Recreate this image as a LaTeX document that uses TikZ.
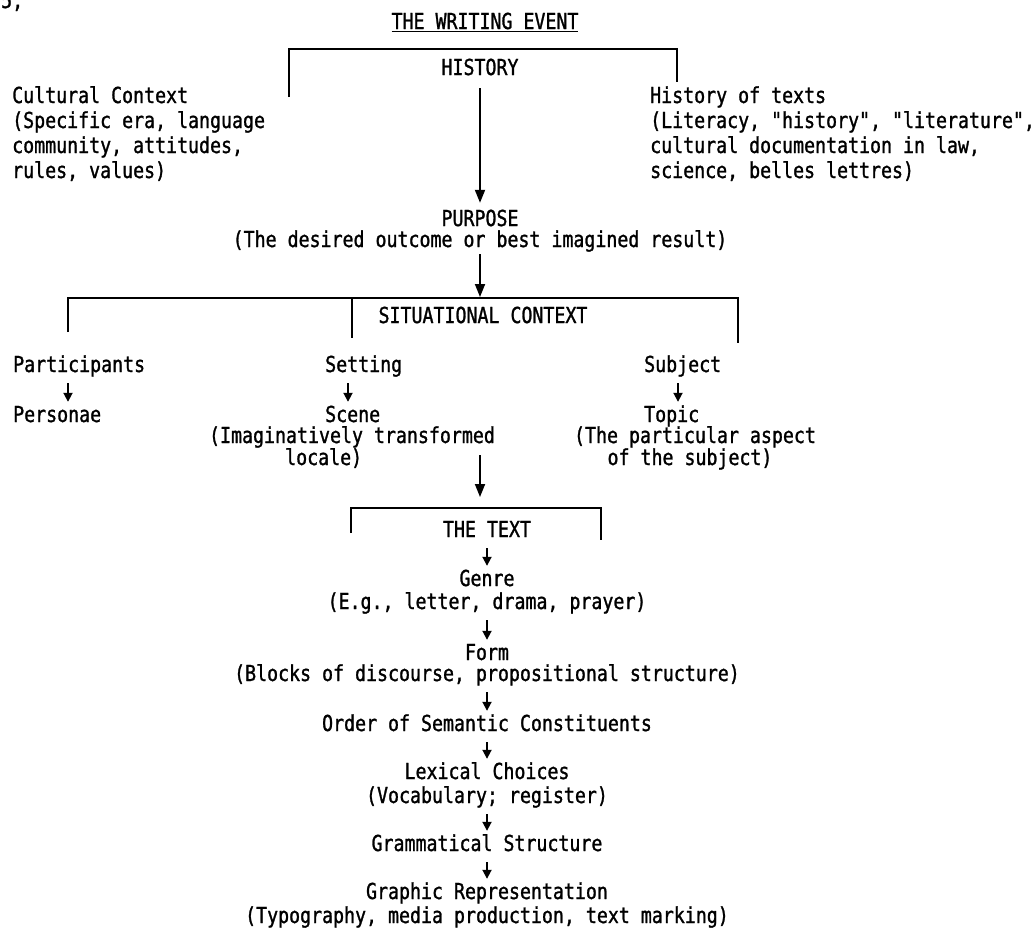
\documentclass[tikz,border=0pt]{standalone}
\usepackage{fontspec}
\usepackage{tikz}
\usetikzlibrary{arrows.meta}
\newfontfamily\dotfont[FakeStretch=0.83, FakeBold=1.2]{DejaVu Sans Mono}

\begin{document}
\begin{tikzpicture}[x=1pt, y=-1pt,
  lbl/.style={inner sep=0pt, font=\dotfont\fontsize{22pt}{24pt}\selectfont, text height=16pt, text depth=5pt},
  bigarr/.style={-{Triangle[length=13pt,width=10pt]}, line width=1.8pt},
  smallarr/.style={-{Triangle[length=9pt,width=9pt]}, line width=1.8pt, shorten <=6pt, shorten >=4pt},
  brk/.style={line width=1.5pt}]
\useasboundingbox (0,0) rectangle (1033,930);
\fill[white] (0,0) rectangle (1033,930);

\node[lbl, anchor=base west] (pagenum) at (1,8) {5,};
\node[lbl, anchor=base] (title) at (485,29) {\underline{THE WRITING EVENT}};
\node[lbl, anchor=base] (history) at (480,75) {HISTORY};

\node[lbl, anchor=base west] (cult1) at (12,103) {Cultural Context};
\node[lbl, anchor=base west] (cult2) at (12,128) {(Specific era, language};
\node[lbl, anchor=base west] (cult3) at (12,153) {community, attitudes,};
\node[lbl, anchor=base west] (cult4) at (12,178) {rules, values)};

\node[lbl, anchor=base west] (hist1) at (650,103) {History of texts};
\node[lbl, anchor=base west] (hist2) at (650,128) {(Literacy, "history", "literature",};
\node[lbl, anchor=base west] (hist3) at (650,153) {cultural documentation in law,};
\node[lbl, anchor=base west] (hist4) at (650,178) {science, belles lettres)};

\node[lbl, anchor=base] (purpose) at (480,226) {PURPOSE};
\node[lbl, anchor=base] (purpdesc) at (480,247) {(The desired outcome or best imagined result)};

\node[lbl, anchor=base] (situat) at (483,323) {SITUATIONAL CONTEXT};

\node[lbl, anchor=base west] (partic) at (13,372) {Participants};
\node[lbl, anchor=base west] (person) at (13,422) {Personae};
\node[lbl, anchor=base west] (setting) at (325,372) {Setting};
\node[lbl, anchor=base west] (scene) at (325,422) {Scene};
\node[lbl, anchor=base] (imag) at (352,443) {(Imaginatively transformed};
\node[lbl, anchor=base west] (locale) at (285,465) {locale)};
\node[lbl, anchor=base west] (subject) at (644,372) {Subject};
\node[lbl, anchor=base west] (topic) at (644,422) {Topic};
\node[lbl, anchor=base] (aspect) at (695,443) {(The particular aspect};
\node[lbl, anchor=base] (ofsubj) at (690,465) {of the subject)};

\node[lbl, anchor=base] (thetext) at (487,537) {THE TEXT};
\node[lbl, anchor=base] (genre) at (487,586) {Genre};
\node[lbl, anchor=base] (genredesc) at (487,609) {(E.g., letter, drama, prayer)};
\node[lbl, anchor=base] (form) at (487,660) {Form};
\node[lbl, anchor=base] (formdesc) at (487,681) {(Blocks of discourse, propositional structure)};
\node[lbl, anchor=base] (order) at (487,731) {Order of Semantic Constituents};
\node[lbl, anchor=base] (lexical) at (487,779) {Lexical Choices};
\node[lbl, anchor=base] (lexdesc) at (487,803) {(Vocabulary; register)};
\node[lbl, anchor=base] (gramm) at (487,851) {Grammatical Structure};
\node[lbl, anchor=base] (graphic) at (487,899) {Graphic Representation};
\node[lbl, anchor=base] (graphdesc) at (487,923) {(Typography, media production, text marking)};

\coordinate (b1l) at (289,97);
\coordinate (b1lt) at (289,49);
\coordinate (b1rt) at (677,49);
\coordinate (b1r) at (677,82);
\draw[brk] (b1l) -- (b1lt) -- (b1rt) -- (b1r);

\coordinate (b2l) at (68,332);
\coordinate (b2lt) at (68,298);
\coordinate (b2rt) at (738,298);
\coordinate (b2r) at (738,343);
\coordinate (b2mt) at (352,298);
\coordinate (b2m) at (352,338);
\coordinate (b2top) at (480,298);
\draw[brk] (b2l) -- (b2lt) -- (b2rt) -- (b2r);
\draw[brk] (b2mt) -- (b2m);

\coordinate (b3l) at (351,533);
\coordinate (b3lt) at (351,508);
\coordinate (b3rt) at (601,508);
\coordinate (b3r) at (601,540);
\coordinate (b3top) at (480,508);
\coordinate (sitout) at (480,455);
\draw[brk] (b3l) -- (b3lt) -- (b3rt) -- (b3r);

\draw[bigarr, shorten <=8pt, shorten >=7pt] (history.south) -- (purpose.north);
\draw[bigarr, shorten <=2pt, shorten >=1pt] (purpdesc.south) -- (b2top);
\draw[bigarr, shorten >=11pt] (sitout) -- (b3top);

\draw[smallarr] ([xshift=55pt]partic.south west) -- ([xshift=55pt]person.north west);
\draw[smallarr] ([xshift=23pt]setting.south west) -- ([xshift=23pt]scene.north west);
\draw[smallarr] ([xshift=34pt]subject.south west) -- ([xshift=34pt]topic.north west);

\draw[smallarr] (thetext.south) -- (genre.north);
\draw[smallarr] (genredesc.south) -- (form.north);
\draw[smallarr] (formdesc.south) -- (order.north);
\draw[smallarr] (order.south) -- (lexical.north);
\draw[smallarr] (lexdesc.south) -- (gramm.north);
\draw[smallarr] (gramm.south) -- (graphic.north);
\end{tikzpicture}
\end{document}
